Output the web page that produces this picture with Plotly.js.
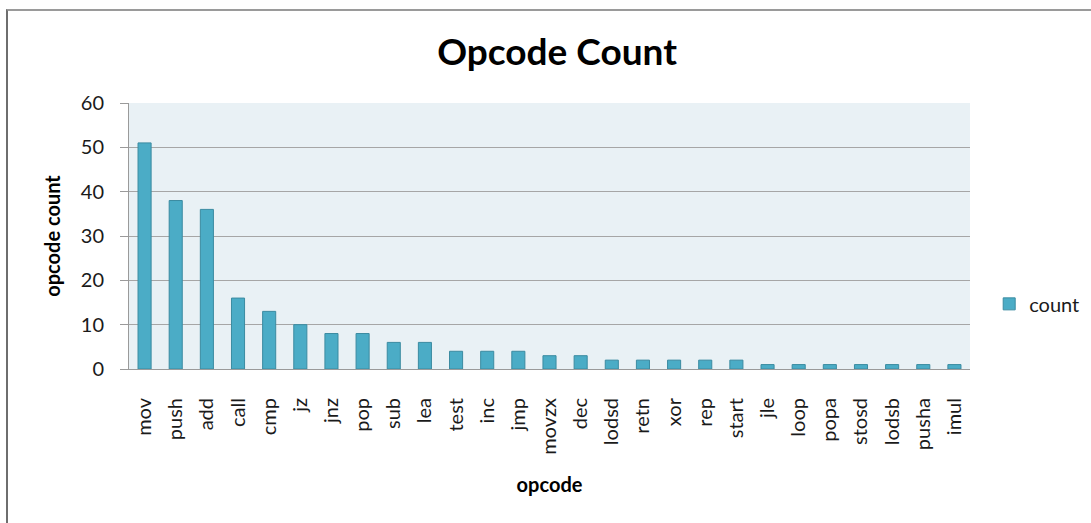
<!DOCTYPE html>
<html><head><meta charset="utf-8">
<script src="https://cdn.plot.ly/plotly-3.0.1.min.js"></script>
<style>
html,body{margin:0;padding:0;background:#fff;overflow:hidden;}
#chart{position:absolute;left:6px;top:9px;width:1085px;height:514px;border-left:2px solid #6e6e6e;border-top:2px solid #9a9a9a;}
</style></head>
<body><div id="chart"></div>
<script>
const categories = ["mov","push","add","call","cmp","jz","jnz","pop","sub","lea","test","inc","jmp","movzx","dec","lodsd","retn","xor","rep","start","jle","loop","popa","stosd","lodsb","pusha","imul"];
const counts = [51,38,36,16,13,10,8,8,6,6,4,4,4,3,3,2,2,2,2,2,1,1,1,1,1,1,1];
const yTicks = [0,10,20,30,40,50,60];

const FONT = "Lato, 'Open Sans', 'DejaVu Sans', sans-serif";
const trace = {
  type: "bar", x: categories, y: counts, name: "count",
  marker: {color: "#4bacc6", line: {color: "#3b8ba1", width: 1}},
  showlegend: true
};
const layout = {
  width: 1083, height: 512,
  margin: {l: 121, r: 121, t: 92, b: 154, autoexpand: false},
  paper_bgcolor: "#ffffff", plot_bgcolor: "#e9f1f5",
  font: {family: FONT, color: "#1a1a1a", size: 20},
  title: {text: "<b>Opcode Count</b>", font: {family: FONT, size: 37, color: "#000"}, xref: "container", x: 0.507, xanchor: "center", yref: "container", y: 0.92, yanchor: "middle"},
  bargap: 0.58,
  xaxis: {
    type: "category", tickangle: -90, showgrid: false, showline: true, linecolor: "#9a9a9a", linewidth: 1,
    ticks: "", ticklabelstandoff: 20, tickfont: {family: FONT, size: 20, color: "#1a1a1a"},
    title: {text: "<b>opcode</b>", font: {family: FONT, size: 20, color: "#000"}, standoff: 24},
    automargin: false
  },
  yaxis: {
    range: [0, 60], tickvals: yTicks, showgrid: true, gridcolor: "#a6a6a6", gridwidth: 1,
    showline: true, linecolor: "#9a9a9a", ticks: "outside", ticklen: 8, tickcolor: "#9a9a9a",
    ticklabelstandoff: 12,
    zeroline: false, tickfont: {family: FONT, size: 20, color: "#1a1a1a"},
    title: {text: "<b>opcode count</b>", font: {family: FONT, size: 20, color: "#000"}, standoff: 14},
    automargin: false
  },
  legend: {xref: "container", x: 0.906, xanchor: "left", yref: "container", y: 0.428, yanchor: "middle", itemwidth: 30, font: {family: FONT, size: 20, color: "#1a1a1a"}, bgcolor: "rgba(0,0,0,0)"}
};
Plotly.newPlot("chart", [trace], layout, {displayModeBar: false, staticPlot: true});
</script></body></html>
